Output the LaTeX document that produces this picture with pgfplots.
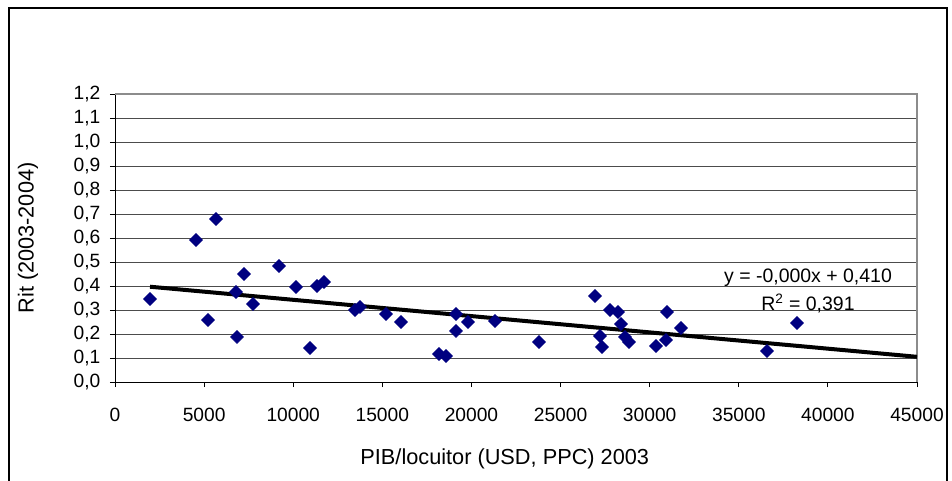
\documentclass[border=0pt]{standalone}
\usepackage{pgfplots}
\pgfplotsset{compat=1.18}
\usepackage{fontspec}
\setmainfont{Liberation Sans}
\definecolor{navy}{HTML}{000080}

\pgfplotstableread{
x y
1964 0.346
4545 0.592
5667 0.679
5218 0.258
6789 0.375
6845 0.188
7238 0.450
7743 0.325
9202 0.483
10156 0.396
10941 0.142
11334 0.400
11727 0.417
13466 0.300
13747 0.313
15206 0.283
16047 0.250
18180 0.117
18572 0.108
19133 0.283
19133 0.213
19807 0.250
21322 0.254
23790 0.167
26933 0.358
27213 0.192
27325 0.146
27774 0.300
28223 0.292
28391 0.242
28616 0.188
28840 0.167
30355 0.150
30916 0.175
30972 0.292
31758 0.225
36584 0.129
38267 0.246
}\datatable

\begin{document}
\begin{tikzpicture}
\useasboundingbox (0,0) rectangle (714pt,360pt);
\draw[black, line width=1.1pt] (6.75pt,-2pt) -- (6.75pt,354pt) -- (710.25pt,354pt) -- (710.25pt,-2pt);
\begin{axis}[
  at={(86.25pt,73.5pt)}, anchor=south west,
  scale only axis, width=601.5pt, height=216pt,
  xmin=0, xmax=45000, ymin=0, ymax=1.2,
  xtick={0,5000,10000,15000,20000,25000,30000,35000,40000,45000},
  ytick={0,0.1,0.2,0.3,0.4,0.5,0.6,0.7,0.8,0.9,1.0,1.1,1.2},
  scaled x ticks=false, scaled y ticks=false,
  axis x line*=bottom, axis y line*=left,
  axis line style={black, line width=0.75pt, -},
  tick align=outside, major tick length=3.75pt,
  tick style={black, line width=0.75pt},
  ymajorgrids, grid style={black!70, line width=0.75pt},
  /pgf/number format/assume math mode=true,
  tick label style={font=\fontsize{14.4}{17}\selectfont},
  yticklabel style={/pgf/number format/.cd, fixed, fixed zerofill, precision=1, use comma, /tikz/.cd, xshift=-3.75pt},
  xticklabel style={/pgf/number format/.cd, fixed, precision=0, 1000 sep={}, /tikz/.cd, yshift=-12.5pt},
  label style={font=\fontsize{16.3}{19}\selectfont},
  xlabel={PIB/locuitor (USD, PPC) 2003},
  ylabel={Rit (2003-2004)},
  xlabel style={at={(axis description cs:0.486,-0.288)}, anchor=base},
  ylabel style={at={(axis description cs:-0.1085,0.5)}, anchor=center},
  clip=false,
]
\draw[black!45, line width=1.5pt] (rel axis cs:0,1) -- (rel axis cs:1,1) -- (rel axis cs:1,0);
\addplot[black, line width=3pt, no marks] coordinates {(1964,0.397) (45000,0.105)};
\addplot[only marks, mark=square*, mark size=3.5pt,
  mark options={rotate=45, fill=navy, draw=navy, line width=0.3pt}] table {\datatable};
\node[anchor=base, font=\fontsize{14.6}{17}\selectfont] at (axis cs:38885,0.415) {y = -0,000x + 0,410};
\node[anchor=base, font=\fontsize{14.6}{17}\selectfont] at (axis cs:38885,0.300) {R\textsuperscript{2} = 0,391};
\end{axis}
\end{tikzpicture}
\end{document}
